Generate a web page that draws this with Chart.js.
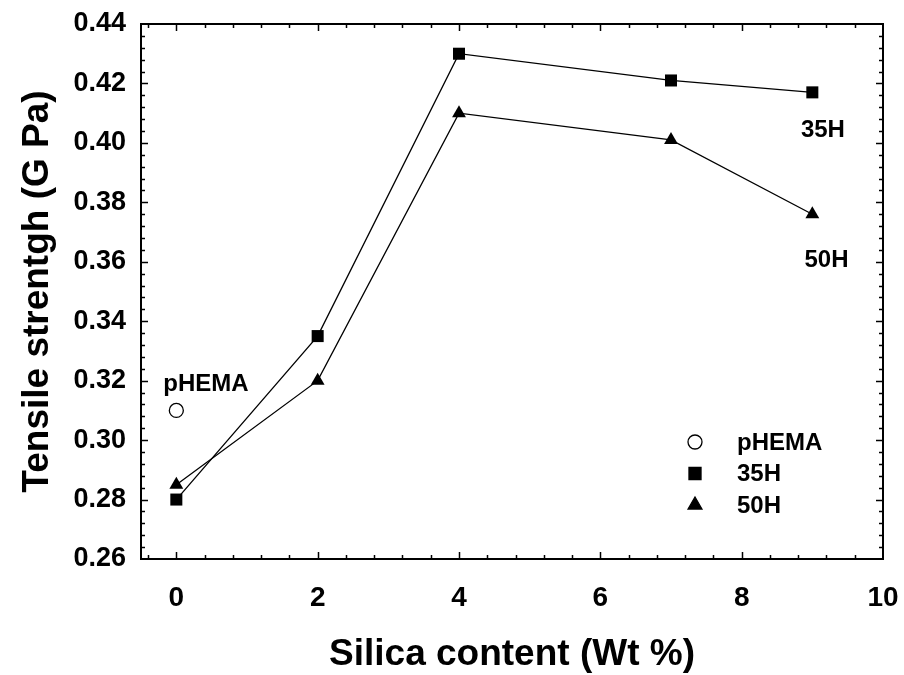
<!DOCTYPE html>
<html>
<head>
<meta charset="utf-8">
<script src="https://cdn.jsdelivr.net/npm/chart.js@4.4.1/dist/chart.umd.min.js"></script>
<style>
  html, body { margin: 0; padding: 0; background: #fff; }
  #wrap { width: 904px; height: 675px; }
</style>
</head>
<body>
<div id="wrap"><canvas id="tensileChart" width="904" height="675"></canvas></div>
<script>
// Silica content (wt %) and tensile strength (GPa)
const silica = [0, 2, 4, 7, 9];
const strength35H = [0.280, 0.335, 0.430, 0.421, 0.417];
const strength50H = [0.285, 0.320, 0.410, 0.401, 0.376];
const pHemaSilica = [0];
const pHemaStrength = [0.310];

const xTicks = [0, 2, 4, 6, 8, 10];
const yTicks = [0.26, 0.28, 0.30, 0.32, 0.34, 0.36, 0.38, 0.40, 0.42, 0.44];

const FONT = "'Liberation Sans', Arial, Helvetica, sans-serif";

const toPoints = (xs, ys) => xs.map((x, i) => ({ x: x, y: ys[i] }));

// labels written inside the plot, placed in data units
const notes = [
    { text: 'pHEMA', x: 0.42, y: 0.3186 },
    { text: '35H', x: 9.15, y: 0.4043 },
    { text: '50H', x: 9.2, y: 0.3606 }
];

// frame around the plot with inward ticks on all four sides
const framePlugin = {
    id: 'frame',
    afterDatasetsDraw(chart) {
        const { ctx, chartArea: a, scales: { x, y } } = chart;
        ctx.save();
        ctx.strokeStyle = '#000';
        ctx.lineWidth = 1.5;
        ctx.beginPath();
        // x ticks: minor every 0.4, major every 2
        for (let i = -1; i <= 25; i++) {
            const v = i * 0.4;
            const px = Math.round(x.getPixelForValue(v)) + 0.5;
            if (px < a.left + 1 || px > a.right - 1) continue;
            const len = (i % 5 === 0) ? 7 : 4;
            ctx.moveTo(px, a.bottom); ctx.lineTo(px, a.bottom - len);
            ctx.moveTo(px, a.top); ctx.lineTo(px, a.top + len);
        }
        // y ticks: minor every 0.004, major every 0.02
        for (let i = 0; i <= 45; i++) {
            const v = 0.26 + i * 0.004;
            const py = Math.round(y.getPixelForValue(v)) + 0.5;
            if (py < a.top + 1 || py > a.bottom - 1) continue;
            const len = (i % 5 === 0) ? 7 : 4;
            ctx.moveTo(a.left, py); ctx.lineTo(a.left + len, py);
            ctx.moveTo(a.right, py); ctx.lineTo(a.right - len, py);
        }
        ctx.stroke();
        ctx.lineWidth = 2;
        ctx.strokeRect(a.left, a.top, a.right - a.left, a.bottom - a.top);

        // text labels beside the curves
        ctx.fillStyle = '#000';
        ctx.font = 'bold 24px ' + FONT;
        ctx.textAlign = 'center';
        ctx.textBaseline = 'middle';
        notes.forEach(n => {
            ctx.fillText(n.text, x.getPixelForValue(n.x), y.getPixelForValue(n.y));
        });

        // legend, lower right of the plot
        const lx = a.right - 188;
        const tx = a.right - 146;
        let ly = a.bottom - 117;
        chart.data.datasets.forEach(ds => {
            ctx.beginPath();
            ctx.fillStyle = ds.pointBackgroundColor;
            ctx.strokeStyle = '#000';
            ctx.lineWidth = 1.3;
            Chart.helpers.drawPoint(ctx, {
                pointStyle: ds.pointStyle,
                radius: ds.pointRadius,
                borderWidth: 1.3,
                rotation: 0
            }, lx, ly);
            ctx.fillStyle = '#000';
            ctx.textAlign = 'left';
            ctx.fillText(ds.label, tx, ly + 1);
            ly += 31.5;
        });
        ctx.restore();
    }
};

const ctx = document.getElementById('tensileChart').getContext('2d');

new Chart(ctx, {
    type: 'scatter',
    data: {
        datasets: [
            {
                label: 'pHEMA',
                data: toPoints(pHemaSilica, pHemaStrength),
                showLine: false,
                pointStyle: 'circle',
                pointRadius: 7,
                pointBackgroundColor: '#fff',
                pointBorderColor: '#000',
                pointBorderWidth: 1.3
            },
            {
                label: '35H',
                data: toPoints(silica, strength35H),
                showLine: true,
                borderColor: '#000',
                borderWidth: 1.3,
                pointStyle: 'rect',
                pointRadius: 8.5,
                pointBackgroundColor: '#000',
                pointBorderColor: '#000',
                pointBorderWidth: 0
            },
            {
                label: '50H',
                data: toPoints(silica, strength50H),
                showLine: true,
                borderColor: '#000',
                borderWidth: 1.3,
                pointStyle: 'triangle',
                pointRadius: 8,
                pointBackgroundColor: '#000',
                pointBorderColor: '#000',
                pointBorderWidth: 0
            }
        ]
    },
    options: {
        responsive: false,
        animation: false,
        layout: { padding: { left: 0, top: 24, right: 21, bottom: 0 } },
        plugins: {
            legend: { display: false },
            tooltip: { enabled: false }
        },
        scales: {
            x: {
                type: 'linear',
                min: -0.5,
                max: 10,
                afterFit: s => { s.height = 116; s.paddingLeft = 0; s.paddingRight = 0; },
                afterBuildTicks: s => { s.ticks = xTicks.map(v => ({ value: v })); },
                grid: { display: false, drawTicks: false },
                border: { display: false },
                ticks: {
                    padding: 22,
                    color: '#000',
                    font: { family: FONT, size: 28, weight: 'bold' }
                },
                title: {
                    display: true,
                    text: 'Silica content (Wt %)',
                    color: '#000',
                    font: { family: FONT, size: 37, weight: 'bold', lineHeight: 1 },
                    padding: { top: 0, bottom: 2 }
                }
            },
            y: {
                type: 'linear',
                min: 0.26,
                max: 0.44,
                afterFit: s => { s.width = 141; s.paddingTop = 0; s.paddingBottom = 0; },
                afterBuildTicks: s => { s.ticks = yTicks.map(v => ({ value: v })); },
                grid: { display: false, drawTicks: false },
                border: { display: false },
                ticks: {
                    padding: 15,
                    color: '#000',
                    font: { family: FONT, size: 27, weight: 'bold' },
                    callback: v => v.toFixed(2)
                },
                title: {
                    display: true,
                    text: 'Tensile strentgh (G Pa)',
                    color: '#000',
                    font: { family: FONT, size: 37, weight: 'bold', lineHeight: 1 },
                    padding: { top: 19, bottom: 0 }
                }
            }
        }
    },
    plugins: [framePlugin]
});
</script>
</body>
</html>
